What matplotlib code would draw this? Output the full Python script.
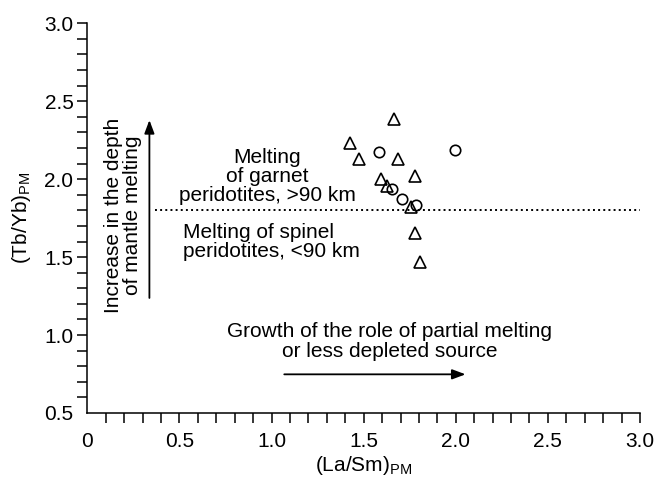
import numpy as np
import matplotlib
matplotlib.use('Agg')
from matplotlib import pyplot as plt
from matplotlib.ticker import FixedLocator

plt.rcParams['font.family'] = ['Liberation Sans', 'DejaVu Sans']
plt.rcParams['mathtext.fontset'] = 'custom'
plt.rcParams['mathtext.rm'] = 'Liberation Sans'
plt.rcParams['mathtext.it'] = 'Liberation Sans:italic'

# triangles
tri_x = [1.663, 1.424, 1.477, 1.689, 1.779, 1.595, 1.627, 1.759, 1.777, 1.804]
tri_y = [2.384, 2.230, 2.127, 2.127, 2.020, 2.001, 1.956, 1.823, 1.657, 1.470]
# circles
circ_x = [1.584, 1.998, 1.654, 1.709, 1.786]
circ_y = [2.176, 2.187, 1.935, 1.871, 1.834]

boundary_y = 1.8
x_labels = ['0', '0.5', '1.0', '1.5', '2.0', '2.5', '3.0']
y_labels = ['0.5', '1.0', '1.5', '2.0', '2.5', '3.0']

fs = 15

fig = plt.figure(figsize=(6.6, 4.79), dpi=100)
ax = fig.add_axes([0.1323, 0.1378, 0.9697 - 0.1323, 0.9514 - 0.1378])

ax.plot(tri_x, tri_y, linestyle='none', marker='^', markersize=9,
        markerfacecolor='none', markeredgecolor='black', markeredgewidth=1.2)
ax.plot(circ_x, circ_y, linestyle='none', marker='o', markersize=7.5,
        markerfacecolor='none', markeredgecolor='black', markeredgewidth=1.2)

ax.plot([0.368, 3.0], [boundary_y, boundary_y], color='black', linestyle=':', linewidth=1.4)

ax.set_xlim(0, 3.0)
ax.set_ylim(0.5, 3.0)
for s in ['top', 'right']:
    ax.spines[s].set_visible(False)
for s in ['left', 'bottom']:
    ax.spines[s].set_linewidth(1.1)

xt = [0, 0.5, 1.0, 1.5, 2.0, 2.5, 3.0]
yt = [0.5, 1.0, 1.5, 2.0, 2.5, 3.0]
ax.set_xticks(xt)
ax.set_xticklabels(x_labels)
ax.set_yticks(yt)
ax.set_yticklabels(y_labels)
ax.xaxis.set_minor_locator(FixedLocator([v / 10 for v in range(1, 30) if v % 5]))
ax.yaxis.set_minor_locator(FixedLocator([v / 10 for v in range(6, 30) if v % 5]))
ax.tick_params(which='both', direction='out', length=7, width=1.1, labelsize=fs)
ax.tick_params(axis='x', which='major', pad=7)
ax.tick_params(axis='y', which='major', pad=3)
ax.xaxis.get_major_ticks()[0].tick1line.set_visible(False)
ax.yaxis.get_major_ticks()[0].tick1line.set_visible(False)

ax.set_xlabel(r'(La/Sm)$_{\mathrm{PM}}$', fontsize=fs, labelpad=2)
ax.set_ylabel(r'(Tb/Yb)$_{\mathrm{PM}}$', fontsize=fs, labelpad=8)

ax.text(0.977, 2.02, 'Melting\nof garnet\nperidotites, >90 km', fontsize=fs,
        ha='center', va='center', linespacing=1.0)
ax.text(0.52, 1.60, 'Melting of spinel\nperidotites, <90 km', fontsize=fs,
        ha='left', va='center', linespacing=1.0)
ax.text(0.194, 1.77, 'Increase in the depth\nof mantle melting', fontsize=fs,
        ha='center', va='center', rotation=90, linespacing=1.0)
ax.text(1.639, 0.96, 'Growth of the role of partial melting\nor less depleted source',
        fontsize=fs, ha='center', va='center', linespacing=1.1)

arrow = dict(arrowstyle='-|>,head_length=0.8,head_width=0.3', color='black',
             linewidth=1.3, shrinkA=0, shrinkB=0)
ax.annotate('', xy=(0.337, 2.379), xytext=(0.337, 1.238), arrowprops=arrow)
ax.annotate('', xy=(2.053, 0.748), xytext=(1.069, 0.748), arrowprops=arrow)

fig.savefig('out.png', dpi=100)
